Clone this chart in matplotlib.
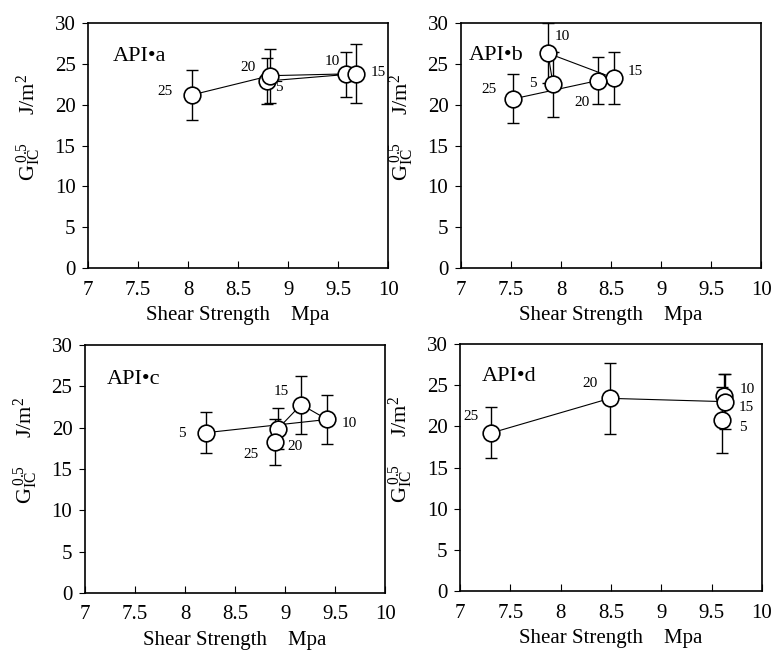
import numpy as np
import matplotlib
matplotlib.use('Agg')
import matplotlib.pyplot as plt

plt.rcParams['font.family'] = ['Liberation Serif', 'DejaVu Serif']
plt.rcParams['mathtext.fontset'] = 'custom'
plt.rcParams['mathtext.rm'] = 'Liberation Serif'
plt.rcParams['mathtext.it'] = 'Liberation Serif'

# concentration labels, same order in every panel
labels = ['5', '10', '15', '20', '25']

# API-a
a_x = [8.79, 9.58, 9.68, 8.82, 8.04]
a_y = [22.9, 23.7, 23.8, 23.55, 21.2]
a_err = [2.8, 2.8, 3.6, 3.3, 3.1]

# API-b
b_x = [7.92, 7.87, 8.53, 8.37, 7.52]
b_y = [22.5, 26.3, 23.25, 22.96, 20.7]
b_err = [4.0, 3.7, 3.2, 2.9, 3.0]

# API-c
c_x = [8.21, 9.42, 9.16, 8.93, 8.90]
c_y = [19.4, 21.0, 22.8, 19.9, 18.3]
c_err = [2.5, 3.0, 3.5, 2.5, 2.8]

# API-d
d_x = [9.60, 9.62, 9.63, 8.49, 7.31]
d_y = [20.8, 23.7, 23.0, 23.4, 19.2]
d_err = [4.0, 2.7, 3.3, 4.3, 3.1]

panels = [
    ('API\u2022a', a_x, a_y, a_err, [0.114, 0.5902, 0.389, 0.3746],
     [(12, -6), (-14, 13), (22, 1), (-22, 8), (-27, 3)]),
    ('API\u2022b', b_x, b_y, b_err, [0.597, 0.5902, 0.389, 0.3746],
     [(-20, 1), (14, 17), (21, 7), (-16, -22), (-24, 9)]),
    ('API\u2022c', c_x, c_y, c_err, [0.110, 0.0933, 0.389, 0.379],
     [(-24, -1), (22, -4), (-20, 13), (17, -18), (-24, -13)]),
    ('API\u2022d', d_x, d_y, d_err, [0.596, 0.0963, 0.391, 0.3777],
     [(21, -8), (24, 6), (22, -6), (-20, 15), (-20, 16)]),
]
name_pos = [(7.25, 25.3), (7.08, 25.5), (7.22, 25.3), (7.22, 25.5)]

fig = plt.figure(figsize=(7.72, 6.54), dpi=100)

for (name, xs, ys, errs, rect, offs), npos in zip(panels, name_pos):
    ax = fig.add_axes(rect)
    ax.errorbar(xs, ys, yerr=errs, fmt='-', color='black', lw=0.8,
                elinewidth=1.0, capsize=4, capthick=1.0, zorder=2)
    ax.plot(xs, ys, 'o', ms=12, mfc='white', mec='black', mew=1.2, zorder=3)
    for lab, x, y, off in zip(labels, xs, ys, offs):
        ax.annotate(lab, (x, y), xytext=off, textcoords='offset pixels',
                    ha='center', va='center', fontsize=11)
    ax.text(npos[0], npos[1], name, fontsize=16)
    ax.set_xlim(7, 10)
    ax.set_ylim(0, 30)
    ax.set_xticks([7, 7.5, 8, 8.5, 9, 9.5, 10])
    ax.set_xticklabels(['7', '7.5', '8', '8.5', '9', '9.5', '10'])
    ax.set_yticks([0, 5, 10, 15, 20, 25, 30])
    ax.tick_params(axis='x', direction='in', length=5, labelsize=15, pad=9)
    ax.tick_params(axis='y', direction='out', length=4, labelsize=15, pad=5)
    for sp in ax.spines.values():
        sp.set_linewidth(1.2)
    ax.set_xlabel('Shear Strength    Mpa', fontsize=15, labelpad=5)
    ax.set_ylabel(r'G$_{\rm IC}^{\,0.5}$     J/m$^2$', fontsize=16)
    ax.yaxis.set_label_coords(-0.15, 0.575)

fig.savefig('out.png', dpi=100)
